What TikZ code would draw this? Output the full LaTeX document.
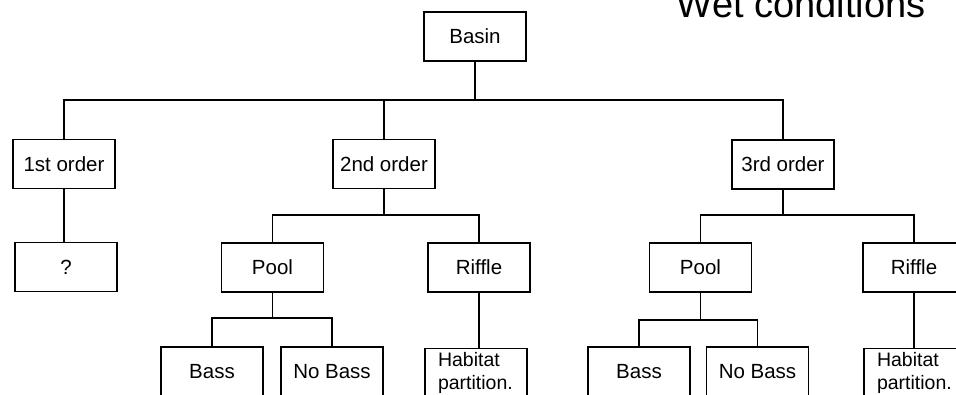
\documentclass[tikz,border=0pt]{standalone}
\usepackage{fontspec}
\setmainfont{Liberation Sans}
\begin{document}
\begin{tikzpicture}[x=1pt,y=-1pt,line width=1.3pt,
  box/.style={draw,line width=1.3pt,rectangle,inner sep=0pt,minimum width=102pt,minimum height=49pt,font=\fontsize{20.5}{22}\selectfont},
  habbox/.style={draw,line width=1.3pt,rectangle,inner xsep=13pt,inner ysep=0pt,text width=76pt,align=left,minimum height=49pt,font=\fontsize{19.5}{23}\selectfont},
  conn/.style={draw,line width=1.3pt}]
\useasboundingbox (0,0) rectangle (956,395);
\node[anchor=base west,font=\fontsize{38}{40}\selectfont] (title) at (673,18) {Wet conditions};
\node[box] (basin) at (475,36.5) {Basin};
\node[box] (o1) at (64,164) {1st order};
\node[box] (o2) at (384,164) {2nd order};
\node[box] (o3) at (783,164.5) {3rd order};
\node[box] (q) at (66,267) {?};
\node[box] (pool2) at (272.5,267.5) {Pool};
\node[box] (riffle2) at (479,267.5) {Riffle};
\node[box] (pool3) at (700.5,267.5) {Pool};
\node[box] (riffle3) at (914,267.5) {Riffle};
\node[box,minimum height=50pt] (bass2) at (212,372) {Bass};
\node[box,minimum height=50pt] (nobass2) at (332,372) {No Bass};
\node[habbox] (hab2) at (476,373) {Habitat\\partition.};
\node[box,minimum height=50pt] (bass3) at (639,372) {Bass};
\node[box,minimum height=50pt] (nobass3) at (757.5,372) {No Bass};
\node[habbox] (hab3) at (915,373) {Habitat\\partition.};
\coordinate (bus0) at (0,100);
\coordinate (bus2) at (0,215);
\coordinate (bus2b) at (0,318);
\coordinate (bus3b) at (0,320);
\draw[conn] (basin.south) -- (basin.south |- bus0);
\draw[conn] (o1.north) -- (o1.north |- bus0) -- (o3.north |- bus0) -- (o3.north);
\draw[conn] (o2.north) -- (o2.north |- bus0);
\draw[conn] (o1.south) -- (o1.south |- q.north);
\draw[conn] (o2.south) -- (o2.south |- bus2);
\draw[conn] (pool2.north) -- (pool2.north |- bus2) -- (riffle2.north |- bus2) -- (riffle2.north);
\draw[conn] (o3.south) -- (o3.south |- bus2);
\draw[conn] (pool3.north) -- (pool3.north |- bus2) -- (riffle3.north |- bus2) -- (riffle3.north);
\draw[conn] (pool2.south) -- (pool2.south |- bus2b);
\draw[conn] (bass2.north) -- (bass2.north |- bus2b) -- (nobass2.north |- bus2b) -- (nobass2.north);
\draw[conn] (pool3.south) -- (pool3.south |- bus3b);
\draw[conn] (bass3.north) -- (bass3.north |- bus3b) -- (nobass3.north |- bus3b) -- (nobass3.north);
\draw[conn] (riffle2.south) -- (riffle2.south |- hab2.north);
\draw[conn] (riffle3.south) -- (riffle3.south |- hab3.north);
\end{tikzpicture}
\end{document}
